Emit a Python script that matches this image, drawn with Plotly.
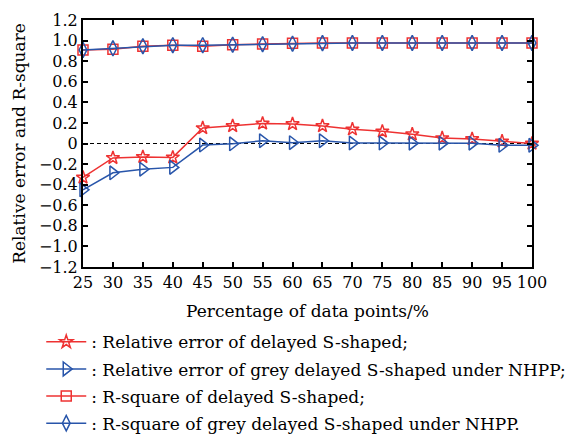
import plotly.graph_objects as go

pct = [25, 30, 35, 40, 45, 50, 55, 60, 65, 70, 75, 80, 85, 90, 95, 100]

rel_err_ds = [-0.33, -0.14, -0.13, -0.135, 0.15, 0.17, 0.195, 0.19, 0.17, 0.138, 0.118, 0.09, 0.053, 0.044, 0.021, 0.0]
rel_err_grey = [-0.45, -0.285, -0.25, -0.232, -0.015, -0.003, 0.027, 0.008, 0.027, 0.005, 0.004, 0.003, 0.003, 0.003, -0.018, -0.018]
r2_ds = [0.909, 0.915, 0.944, 0.954, 0.945, 0.96, 0.967, 0.974, 0.977, 0.977, 0.977, 0.977, 0.977, 0.977, 0.977, 0.977]
r2_grey = [0.909, 0.925, 0.945, 0.955, 0.955, 0.96, 0.965, 0.97, 0.975, 0.977, 0.977, 0.977, 0.977, 0.977, 0.977, 0.977]

names = [
    ": Relative error of delayed S-shaped;",
    ": Relative error of grey delayed S-shaped under NHPP;",
    ": R-square of delayed S-shaped;",
    ": R-square of grey delayed S-shaped under NHPP.",
]

y_ticks = [1.2, 1.0, 0.8, 0.6, 0.4, 0.2, 0, -0.2, -0.4, -0.6, -0.8, -1.0, -1.2]
y_ticktext = ["1.2", "1.0", "0.8", "0.6", "0.4", "0.2", "0", "\u22120.2", "\u22120.4", "\u22120.6",
              "\u22120.8", "\u22121.0", "\u22121.2"]

RED = "rgb(238,50,50)"
BLUE = "rgb(40,85,170)"
FONT = "DejaVu Serif"

series = [
    (rel_err_ds, RED, "star-open", 10),
    (rel_err_grey, BLUE, "triangle-right-open", 12),
    (r2_ds, RED, "square-open", 10),
    (r2_grey, BLUE, "diamond-tall-open", 11),
]

fig = go.Figure()
for i, (vals, col, sym, sz) in enumerate(series):
    fig.add_trace(go.Scatter(
        x=pct, y=vals, name=names[i], mode="lines+markers",
        line=dict(color=col, width=1.5),
        marker=dict(symbol=sym, size=sz, color=col, line=dict(color=col, width=1.5)),
        cliponaxis=False, legendgroup=f"g{i}",
    ))

fig.add_shape(type="line", xref="paper", yref="y", x0=0, x1=1, y0=0, y1=0,
              line=dict(color="black", width=1.2, dash="4px,3px"), layer="below")

fig.update_layout(
    width=574, height=436,
    margin=dict(l=83, r=42, t=20, b=169, autoexpand=False),
    paper_bgcolor="white", plot_bgcolor="white",
    font=dict(family=FONT, size=17, color="black"),
    showlegend=True,
    legend=dict(
        x=-0.093, y=-0.232, xanchor="left", yanchor="top",
        font=dict(family=FONT, size=17, color="black"),
        tracegroupgap=2, traceorder="grouped",
        bgcolor="rgba(0,0,0,0)", itemwidth=40,
    ),
    xaxis=dict(
        range=[25, 100], tickvals=pct, ticks="inside", ticklen=5, tickwidth=1.5,
        tickcolor="black", showline=True, linecolor="black", linewidth=2,
        mirror="ticks", showgrid=False, zeroline=False,
        title=dict(text="Percentage of data points/%", standoff=14, font=dict(family=FONT, size=17)),
        tickfont=dict(family=FONT, size=16),
    ),
    yaxis=dict(
        range=[-1.2, 1.2], tickvals=y_ticks, ticktext=y_ticktext, ticks="inside",
        ticklen=5, tickwidth=1.5, tickcolor="black", showline=True, linecolor="black",
        linewidth=2, mirror="ticks", showgrid=False, zeroline=False,
        title=dict(text="Relative error and R-square", standoff=9, font=dict(family=FONT, size=17)),
        tickfont=dict(family=FONT, size=16),
    ),
)

fig.write_html("out.html")
